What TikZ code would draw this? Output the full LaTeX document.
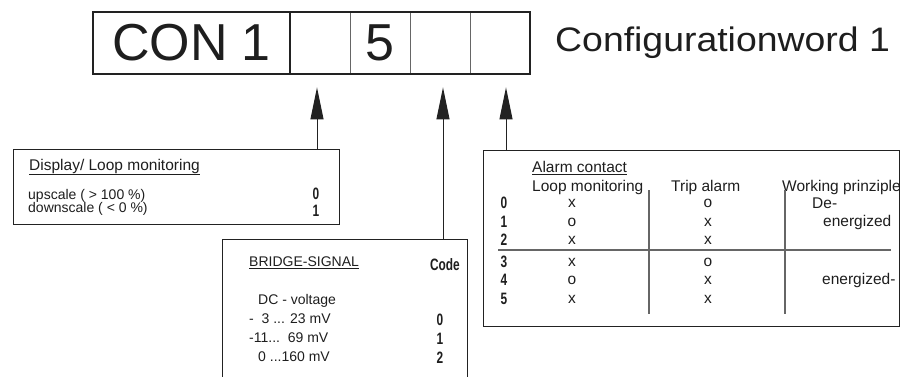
\documentclass[tikz,border=0pt]{standalone}
\usepackage{fontspec}
\setmainfont{Liberation Sans}
\usetikzlibrary{positioning,arrows.meta}
\definecolor{LineDark}{HTML}{222222}
\definecolor{LineGray}{HTML}{666666}
\definecolor{TextDark}{HTML}{1E1E1E}
\newcommand{\cnd}[1]{\scalebox{0.72}[1]{\bfseries #1}}

\begin{document}
\begin{tikzpicture}[x=1pt,y=-1pt,
  every node/.style={text=TextDark,inner sep=0pt},
  cell/.style={draw=LineGray,line width=0.8pt,minimum width=60pt,
    minimum height=62pt,font=\fontsize{52}{52}\selectfont},
  frame/.style={draw=LineDark,line width=2pt},
  box/.style={draw=LineDark,line width=1pt},
  txt/.style={anchor=west,font=\fontsize{14}{16}\selectfont},
  head/.style={anchor=west,font=\fontsize{15.5}{17}\selectfont},
  num/.style={font=\fontsize{16.5}{16.5}\selectfont},
  ar/.style={-{Triangle[width=13pt,length=32pt]},draw=LineDark,
    line width=1pt,shorten >=13pt},
  rule/.style={draw=LineGray,line width=1.2pt}]
  \useasboundingbox (0,0) rectangle (919,376);

  % configuration word
  \node[cell,minimum width=197pt] (con) at (191.5,43) {CON 1};
  \node[cell] (c1) at (320,43) {};
  \node[cell] (c2) at (380,43) {5};
  \node[cell] (c3) at (440,43) {};
  \node[cell] (c4) at (500,43) {};
  \draw[frame] (con.north west) rectangle (c4.south east);
  \draw[frame] (con.north east) -- (con.south east);
  \node[anchor=west,font=\fontsize{34}{34}\selectfont] (cw) at (555,43)
    {\scalebox{1.1}[1]{Configurationword 1}};

  % display / loop monitoring
  \node[box,minimum width=326pt,minimum height=75pt] (disp) at (176,186.5) {};
  \node[head] (dt) at (29,167) {\underline{Display/ Loop monitoring}};
  \node[txt] (d0) at (28,196) {upscale ( > 100 \%)};
  \node[txt] (d1) at (28,209) {downscale ( < 0 \%)};
  \node[num] (dc0) at (316,194) {\cnd{0}};
  \node[num] (dc1) at (316,211) {\cnd{1}};

  % bridge signal
  \node[box,minimum width=245pt,minimum height=143pt] (bridge) at (344.5,310.5) {};
  \node[txt] (bt) at (249,263) {\underline{BRIDGE-SIGNAL}};
  \node[num] (bc) at (445,265) {\cnd{Code}};
  \node[txt] (bdc) at (258,301) {DC - voltage};
  \node[txt] (b0) at (249,319) {-\ \ 3 ... 23 mV};
  \node[txt] (b1) at (249,338) {-11...\ \ 69 mV};
  \node[txt] (b2) at (258,357) {0 ...160 mV};
  \node[num] (bn0) at (440,320) {\cnd{0}};
  \node[num] (bn1) at (440,339) {\cnd{1}};
  \node[num] (bn2) at (440,358) {\cnd{2}};

  % alarm contact
  \node[box,minimum width=416pt,minimum height=176pt] (alarm) at (691,238) {};
  \node[head] (at) at (532,168) {\underline{Alarm contact}};
  \node[head] (ah1) at (532,187) {Loop monitoring};
  \node[head] (ah2) at (671,187) {Trip alarm};
  \node[head] (ah3) at (782,187) {Working prinziple};
  \foreach \i/\a/\b/\y in {0/x/o/203,1/o/x/222,2/x/x/240,3/x/o/262,4/o/x/280,5/x/x/299}{
    \node[num] (r\i) at (504,\y) {\cnd{\i}};
    \node[head,anchor=center] (la\i) at (572,\y) {\a};
    \node[head,anchor=center] (tb\i) at (708,\y) {\b};
  }
  \node[head] (we0) at (812,203) {De-};
  \node[head] (we1) at (823,222) {energized};
  \node[head] (we4) at (822,280) {energized-};
  \draw[rule] (498,250) -- (891,250);
  \draw[rule] (649,190) -- (649,314);
  \draw[rule] (785,190) -- (785,314);

  % arrows
  \coordinate (t1) at ([xshift=-3pt]c1.south);
  \coordinate (t3) at ([xshift=3pt]c3.south);
  \coordinate (t4) at ([xshift=6pt]c4.south);
  \draw[ar] (t1 |- disp.north) -- (t1);
  \draw[ar] (t3 |- bridge.north) -- (t3);
  \draw[ar] (t4 |- alarm.north) -- (t4);
\end{tikzpicture}
\end{document}
